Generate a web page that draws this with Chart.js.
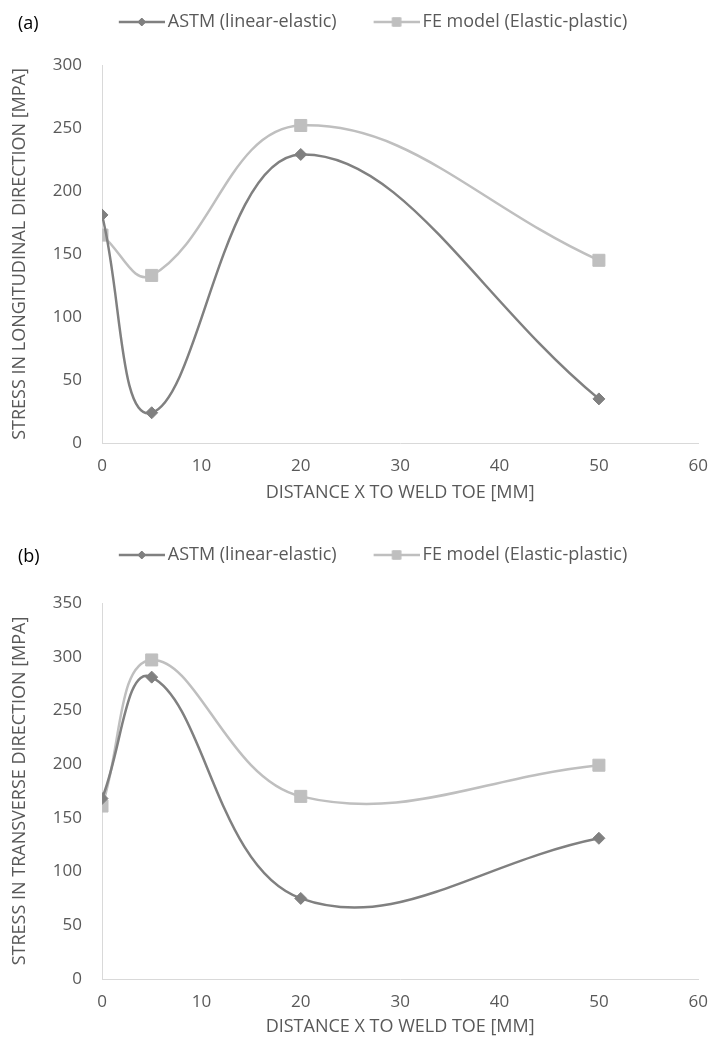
<!DOCTYPE html>
<html>
  <head>
    <meta charset="utf-8">
    <style type="text/css">
    body { margin: 0; background: #fff; }
    .panel { position: relative; width: 721px; }
    .tag {
      position: absolute; left: 18px;
      font-family: 'Open Sans', sans-serif; font-size: 18px; color: #000;
    }
    </style>
  </head>
  <body>
    <script src="https://cdn.jsdelivr.net/npm/chart.js@4.4.1/dist/chart.umd.min.js"></script>

    <div class="panel" style="height:520px">
      <div class="tag" style="top:10px">(a)</div>
      <canvas id="chartA" width="721" height="520"></canvas>
    </div>
    <div class="panel" style="height:523px">
      <div class="tag" style="top:23px">(b)</div>
      <canvas id="chartB" width="721" height="523"></canvas>
    </div>

    <script>
      /* datas */
      const distance = [0, 5, 20, 50];
      const seriesNames = ['ASTM (linear-elastic)', 'FE model (Elastic-plastic)'];
      const astmLongitudinal = [181, 24, 229, 35];
      const feLongitudinal = [165, 133, 252, 145];
      const astmTransverse = [168, 281, 75, 131];
      const feTransverse = [161, 297, 170, 199];

      const darkGrey = '#808080';
      const lightGrey = '#bfbfbf';

      Chart.defaults.font.family = "'Open Sans', sans-serif";
      Chart.defaults.color = '#595959';

      const toPoints = (ys) => distance.map((x, i) => ({ x: x, y: ys[i] }));

      // little line + marker picture for the legend, Excel style
      const legendIcon = (color, style, r) => {
        const c = document.createElement('canvas');
        c.width = 79; c.height = 20;
        const ctx = c.getContext('2d');
        ctx.strokeStyle = color;
        ctx.lineWidth = 2.5;
        ctx.beginPath();
        ctx.moveTo(33, 10);
        ctx.lineTo(79, 10);
        ctx.stroke();
        ctx.fillStyle = color;
        ctx.strokeStyle = color;
        ctx.lineWidth = 1;
        Chart.helpers.drawPoint(ctx, { pointStyle: style, radius: r, rotation: 0, borderWidth: 1 }, 56, 10);
        ctx.fill();
        return c;
      };
      const icons = [legendIcon(darkGrey, 'rectRot', 4), legendIcon(lightGrey, 'rect', 6)];

      // pin the legend height so the plot area lands where it should
      const legendSpace = (h) => ({
        id: 'legendSpace',
        beforeInit(chart) {
          const fit = chart.legend.fit;
          chart.legend.fit = function () {
            fit.call(this);
            this.height = h;
          };
        }
      });

      const makeChart = (id, astm, fe, yMax, yTitle, lay) => new Chart(id, {
        type: 'line',
        data: {
          datasets: [{
            label: seriesNames[0],
            data: toPoints(astm),
            borderColor: darkGrey,
            backgroundColor: darkGrey,
            borderWidth: 2.5,
            tension: 0.4,
            pointStyle: 'rectRot',
            pointRadius: 6,
            pointBorderWidth: 1,
            fill: false
          }, {
            label: seriesNames[1],
            data: toPoints(fe),
            borderColor: lightGrey,
            backgroundColor: lightGrey,
            borderWidth: 2.5,
            tension: 0.4,
            pointStyle: 'rect',
            pointRadius: 8.5,
            pointBorderWidth: 1,
            fill: false
          }]
        },
        options: {
          responsive: false,
          animation: false,
          layout: { padding: { top: lay.top, right: 2, left: 0, bottom: 0 } },
          plugins: {
            tooltip: { enabled: false },
            legend: {
              position: 'top',
              labels: {
                font: { size: 18 },
                color: '#595959',
                padding: 10,
                usePointStyle: true,
                pointStyleWidth: 67,
                generateLabels: (chart) => {
                  const items = Chart.defaults.plugins.legend.labels.generateLabels(chart);
                  items.forEach((it, i) => { it.pointStyle = icons[i]; });
                  return items;
                }
              }
            }
          },
          scales: {
            x: {
              type: 'linear',
              min: 0, max: 60,
              grid: { display: false, drawTicks: false },
              border: { display: true, color: '#d9d9d9', width: 1 },
              ticks: { stepSize: 10, padding: 13, font: { size: 17 }, color: '#595959' },
              title: {
                display: true,
                text: 'DISTANCE X TO WELD TOE [MM]',
                font: { size: 18 },
                color: '#595959',
                padding: { top: 0, bottom: lay.xTitlePad }
              },
              afterFit: (scale) => { scale.height = lay.xHeight; }
            },
            y: {
              min: 0, max: yMax,
              grid: { display: false, drawTicks: false },
              border: { display: true, color: '#d9d9d9', width: 1 },
              ticks: { stepSize: 50, padding: 20, font: { size: 17 }, color: '#595959' },
              title: {
                display: true,
                text: yTitle,
                font: { size: 18 },
                color: '#595959',
                padding: { top: 9, bottom: 0 }
              },
              afterFit: (scale) => { scale.width = 102; }
            }
          }
        },
        plugins: [legendSpace(lay.legendH)]
      });

      const chartA = makeChart('chartA', astmLongitudinal, feLongitudinal, 300,
        'STRESS IN LONGITUDINAL DIRECTION [MPA]',
        { top: 3, legendH: 62, xHeight: 77, xTitlePad: 16 });

      const chartB = makeChart('chartB', astmTransverse, feTransverse, 350,
        'STRESS IN TRANSVERSE DIRECTION [MPA]',
        { top: 16, legendH: 67, xHeight: 64, xTitlePad: 5 });
    </script>
  </body>
</html>
